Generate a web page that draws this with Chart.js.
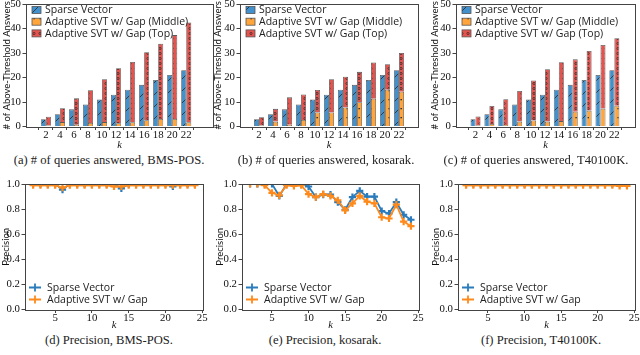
<!DOCTYPE html>
<html>
<head>
<meta charset="utf-8">
<title>SVT answers and precision</title>
<script src="https://cdn.jsdelivr.net/npm/chart.js@4.4.1/dist/chart.umd.min.js"></script>
<style>
  body { margin: 0; width: 640px; height: 355px; background: #fff; position: relative; overflow: hidden; }
  canvas { position: absolute; }
  .caption { position: absolute; font-family: "Liberation Serif", serif; font-size: 12.6px; line-height: 14px; color: #222; white-space: nowrap; transform: translateX(-50%); }
</style>
</head>
<body>
<canvas id="barBms"></canvas>
<canvas id="barKos"></canvas>
<canvas id="barT40"></canvas>
<canvas id="precBms"></canvas>
<canvas id="precKos"></canvas>
<canvas id="precT40"></canvas>

<div class="caption" style="left:109px;top:153px">(a) # of queries answered, BMS-POS.</div>
<div class="caption" style="left:326px;top:153px">(b) # of queries answered, kosarak.</div>
<div class="caption" style="left:536px;top:153px">(c) # of queries answered, T40100K.</div>
<div class="caption" style="left:109px;top:333px">(d) Precision, BMS-POS.</div>
<div class="caption" style="left:325px;top:333px">(e) Precision, kosarak.</div>
<div class="caption" style="left:541px;top:333px">(f) Precision, T40100K.</div>

<script>
// ---- data ----
const kBars = [2, 4, 6, 8, 10, 12, 14, 16, 18, 20, 22];
const barYTicks = [0, 10, 20, 30, 40, 50];

const svAnswers = [3, 5, 7, 9, 11, 13, 15, 17, 19, 21, 23];

// Adaptive SVT w/ Gap: orange part (middle) and red part on top of it
const gapMiddleBms = [0.5, 1.8, 0.7, 1.4, 1.8, 1.3, 1.7, 2.6, 3.1, 3.1, 1.7];
const gapTopBms    = [3.5, 5.7, 10.8, 13.4, 17.5, 22.5, 24.6, 27.7, 30.7, 34.2, 40.8];
const gapMiddleKos = [0.5, 2.0, 0.7, 2.7, 5.7, 5.7, 7.8, 9.9, 11.3, 15.0, 14.2];
const gapTopKos    = [3.3, 5.2, 11.2, 10.4, 9.2, 13.6, 12.5, 12.4, 14.8, 10.4, 15.8];
const gapMiddleT40 = [0.5, 1.0, 0.6, 2.0, 2.5, 2.0, 2.2, 6.0, 6.5, 7.3, 8.5];
const gapTopT40    = [3.6, 7.4, 10.5, 12.5, 16.3, 21.4, 24.0, 21.4, 24.3, 26.0, 27.5];

const kPrec = [2, 3, 4, 5, 6, 7, 8, 9, 10, 11, 12, 13, 14, 15, 16, 17, 18, 19, 20, 21, 22, 23, 24];
const precXTicks = [5, 10, 15, 20, 25];
const precYTicks = [0, 0.2, 0.4, 0.6, 0.8, 1.0];

const svPrecBms = [1, 1, 1, 1, 0.955, 1, 1, 1, 1, 1, 1, 1, 0.965, 1, 1, 1, 1, 1, 1, 0.98, 1, 1, 1];
const adPrecBms = [0.99, 0.99, 0.99, 0.99, 0.97, 0.99, 0.99, 0.99, 0.99, 0.99, 0.99, 0.98, 0.98, 0.99, 0.99, 0.99, 0.99, 0.99, 0.99, 0.99, 0.99, 0.99, 0.99];
const svPrecKos = [1, 1, 1, 1, 0.905, 1, 1, 1, 0.98, 0.895, 0.915, 0.915, 0.855, 0.795, 0.895, 0.945, 0.9, 0.9, 0.785, 0.765, 0.855, 0.755, 0.715];
const adPrecKos = [1, 1, 0.99, 0.93, 0.91, 0.99, 0.985, 0.99, 0.92, 0.895, 0.92, 0.905, 0.87, 0.79, 0.845, 0.905, 0.86, 0.845, 0.735, 0.725, 0.835, 0.7, 0.665];
const svPrecT40 = [1, 1, 1, 1, 1, 1, 1, 1, 1, 1, 1, 1, 1, 1, 1, 1, 1, 1, 1, 1, 1, 1, 1];
const adPrecT40 = [0.99, 0.99, 0.99, 0.99, 0.99, 0.99, 0.99, 0.99, 0.99, 0.99, 0.99, 0.99, 0.99, 0.99, 0.99, 0.99, 0.99, 0.99, 0.99, 0.99, 0.99, 0.985, 0.985];

// ---- look ----
const BLUE = '#4290cc', ORANGE = '#ffa53c', RED = '#e4544f';
const LINE_BLUE = '#2a7cbc', LINE_ORANGE = '#ff8a1c';
const FRAME = '#444';
const TICK_FONT = { family: 'Liberation Serif', size: 10.8 };
const LABEL_FONT = { family: 'Lato', size: 9.5, lineHeight: 1.2 };
const LEGEND_FONT = '10.5px "Open Sans"';
const K_FONT = { family: 'Liberation Serif', size: 10.5, style: 'italic', lineHeight: 1.2 };

// plot rectangles in page pixels (l, t, r, b), y title centre x, k title centre y, x range
const panels = {
  barBms:  { l: 26,  t: 4,   r: 213, b: 127, yt: 7,   kY: 146, xmin: 0.38, xmax: 24.6 },
  barKos:  { l: 240, t: 4,   r: 418, b: 127, yt: 218, kY: 146, xmin: 0.44, xmax: 23.56 },
  barT40:  { l: 456, t: 4,   r: 635, b: 127, yt: 435, kY: 146, xmin: 0.36, xmax: 23.8 },
  precBms: { l: 25,  t: 184, r: 203, b: 310, yt: 6,   kY: 326, xmin: 0.9, xmax: 25.1 },
  precKos: { l: 242, t: 184, r: 419, b: 310, yt: 220, kY: 326, xmin: 0.9, xmax: 25.1 },
  precT40: { l: 458, t: 184, r: 635, b: 310, yt: 436, kY: 326, xmin: 0.9, xmax: 25.1 }
};

function hatch(color, kind) {
  const c = document.createElement('canvas');
  const w = kind === 'slash' ? 12 : 6;
  const h = kind === 'slash' ? 12 : kind === 'dot' ? 9 : 5;
  c.width = w; c.height = h;
  const g = c.getContext('2d');
  g.fillStyle = color;
  g.fillRect(0, 0, w, h);
  g.strokeStyle = '#1a1a1a';
  g.fillStyle = '#1a1a1a';
  if (kind === 'slash') {
    g.lineWidth = 0.7;
    g.beginPath();
    g.moveTo(0, h); g.lineTo(w, 0);
    g.stroke();
  } else if (kind === 'dot') {
    g.fillRect(2.5, 4, 1.3, 1.3);
  } else {
    g.lineWidth = 0.6;
    g.beginPath();
    g.arc(3, 2.5, 1.1, 0, Math.PI * 2);
    g.stroke();
  }
  return g.createPattern(c, 'repeat');
}

const blueHatch = hatch(BLUE, 'slash');
const orangeHatch = hatch(ORANGE, 'dot');
const redHatch = hatch(RED, 'circle');

// frame on all four sides, like matplotlib spines
const framePlugin = {
  id: 'frame',
  afterDraw(chart) {
    const { ctx, chartArea: a } = chart;
    ctx.save();
    ctx.strokeStyle = FRAME;
    ctx.lineWidth = 1;
    ctx.strokeRect(Math.round(a.left) + 0.5, Math.round(a.top) + 0.5, Math.round(a.right - a.left), Math.round(a.bottom - a.top));
    ctx.restore();
  }
};

// legend drawn inside the plot area
const innerLegend = {
  id: 'innerLegend',
  afterDraw(chart, args, opts) {
    const { ctx, chartArea: a } = chart;
    const sets = chart.data.datasets;
    ctx.save();
    ctx.font = LEGEND_FONT;
    ctx.textBaseline = 'middle';
    sets.forEach((ds, i) => {
      const y = opts.fromBottom ? a.bottom - opts.y - (sets.length - 1 - i) * opts.gap : a.top + opts.y + i * opts.gap;
      const x = a.left + opts.x;
      if (opts.kind === 'box') {
        ctx.fillStyle = ds.backgroundColor;
        ctx.fillRect(x, y - 3.5, 9, 7);
        ctx.strokeStyle = '#555';
        ctx.lineWidth = 0.8;
        ctx.strokeRect(x, y - 3.5, 9, 7);
      } else {
        ctx.strokeStyle = ds.borderColor;
        ctx.lineWidth = 1.8;
        ctx.beginPath();
        ctx.moveTo(x, y); ctx.lineTo(x + 12, y);
        ctx.moveTo(x + 6, y - 4); ctx.lineTo(x + 6, y + 4);
        ctx.stroke();
      }
      ctx.fillStyle = '#222';
      ctx.fillText(ds.label, x + opts.textX, y + 0.5);
    });
    ctx.restore();
  }
};

function place(id) {
  const p = panels[id];
  const el = document.getElementById(id);
  const left = p.yt - 6;
  const top = p.t - 8;
  const right = p.r + 8;
  const bottom = p.kY + 6.5;
  el.width = right - left;
  el.height = bottom - top;
  el.style.left = left + 'px';
  el.style.top = top + 'px';
  return { el, p, yw: p.l - left, xh: bottom - p.b };
}

function axes(p, yw, xh, xTicks, yTicks, yTitle, yFmt) {
  return {
    x: {
      type: 'linear',
      min: p.xmin,
      max: p.xmax,
      afterBuildTicks: s => { s.ticks = xTicks.map(v => ({ value: v })); },
      afterFit: s => { s.height = xh; s.paddingLeft = 0; s.paddingRight = 0; },
      border: { display: false },
      grid: { drawOnChartArea: false, drawTicks: true, tickLength: 3.5, color: FRAME },
      ticks: { font: TICK_FONT, color: '#111', padding: -1.5, maxRotation: 0, autoSkip: false },
      title: { display: true, text: 'k', font: K_FONT, color: '#111', padding: 0 }
    },
    y: {
      min: yTicks[0],
      max: yTicks[yTicks.length - 1],
      afterBuildTicks: s => { s.ticks = yTicks.map(v => ({ value: v })); },
      afterFit: s => { s.width = yw; s.paddingTop = 0; s.paddingBottom = 0; },
      border: { display: false },
      grid: { drawOnChartArea: false, drawTicks: true, tickLength: 3.5, color: FRAME },
      ticks: { font: TICK_FONT, color: '#111', padding: 1.5, callback: yFmt },
      title: { display: true, text: yTitle, font: LABEL_FONT, color: '#111', padding: 0 }
    }
  };
}

function barChart(id, middle, top) {
  const { el, p, yw, xh } = place(id);
  const sc = axes(p, yw, xh, kBars, barYTicks, '# of Above-Threshold Answers', v => v);
  sc.x.stacked = true;
  sc.y.stacked = true;
  return new Chart(el.getContext('2d'), {
    type: 'bar',
    data: {
      datasets: [
        { label: 'Sparse Vector', stack: 'sv', data: svAnswers.map((v, i) => ({ x: kBars[i], y: v })), backgroundColor: blueHatch },
        { label: 'Adaptive SVT w/ Gap (Middle)', stack: 'gap', data: middle.map((v, i) => ({ x: kBars[i], y: v })), backgroundColor: orangeHatch },
        { label: 'Adaptive SVT w/ Gap (Top)', stack: 'gap', data: top.map((v, i) => ({ x: kBars[i], y: v })), backgroundColor: redHatch }
      ]
    },
    options: {
      responsive: false,
      animation: false,
      events: [],
      layout: { padding: { top: 8, right: 8, left: 0, bottom: 0 } },
      datasets: { bar: { borderColor: '#5a5a5a', borderWidth: 0.8, categoryPercentage: 0.72, barPercentage: 1 } },
      scales: sc,
      plugins: {
        legend: { display: false },
        tooltip: { enabled: false },
        innerLegend: { kind: 'box', x: 6, y: 6, gap: 11.7, textX: 13 }
      }
    },
    plugins: [framePlugin, innerLegend]
  });
}

function precChart(id, sv, ad) {
  const { el, p, yw, xh } = place(id);
  const sc = axes(p, yw, xh, precXTicks, precYTicks, 'Precision', v => v.toFixed(1));
  const line = (label, color, vals, order) => ({
    label,
    order,
    data: vals.map((v, i) => ({ x: kPrec[i], y: v })),
    borderColor: color,
    backgroundColor: color,
    borderWidth: 1.8,
    pointStyle: 'cross',
    pointRadius: 3.6,
    pointBorderWidth: 2.2,
    pointBorderColor: color
  });
  return new Chart(el.getContext('2d'), {
    type: 'line',
    data: {
      datasets: [
        line('Sparse Vector', LINE_BLUE, sv, 1),
        line('Adaptive SVT w/ Gap', LINE_ORANGE, ad, 0)
      ]
    },
    options: {
      responsive: false,
      animation: false,
      events: [],
      layout: { padding: { top: 8, right: 8, left: 0, bottom: 0 } },
      scales: sc,
      plugins: {
        legend: { display: false },
        tooltip: { enabled: false },
        innerLegend: { kind: 'line', x: 4, y: 10, gap: 12, textX: 18, fromBottom: true }
      }
    },
    plugins: [framePlugin, innerLegend]
  });
}

barChart('barBms', gapMiddleBms, gapTopBms);
barChart('barKos', gapMiddleKos, gapTopKos);
barChart('barT40', gapMiddleT40, gapTopT40);
precChart('precBms', svPrecBms, adPrecBms);
precChart('precKos', svPrecKos, adPrecKos);
precChart('precT40', svPrecT40, adPrecT40);
</script>
</body>
</html>
